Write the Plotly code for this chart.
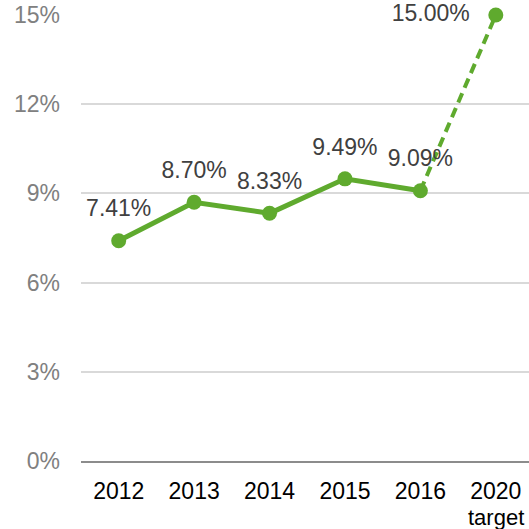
import plotly.graph_objects as go

categories = ["2012", "2013", "2014", "2015", "2016", "2020"]
sub_labels = ["", "", "", "", "", "target"]
values = [7.41, 8.70, 8.33, 9.49, 9.09, 15.00]
labels = ["7.41%", "8.70%", "8.33%", "9.49%", "9.09%", "15.00%"]
y_ticks = [0, 3, 6, 9, 12, 15]
y_tick_labels = ["0%", "3%", "6%", "9%", "12%", "15%"]

green = "#5FAA2E"
font = "Liberation Sans, Arial, sans-serif"
fs = 23

fig = go.Figure()
# dashed projection 2016 -> 2020
fig.add_trace(go.Scatter(
    x=categories[4:], y=values[4:],
    mode="lines",
    line=dict(color=green, width=4, dash="10px,6px"),
    hoverinfo="skip", showlegend=False, cliponaxis=False,
))
# actual values
fig.add_trace(go.Scatter(
    x=categories[:5], y=values[:5],
    mode="lines+markers",
    line=dict(color=green, width=5),
    marker=dict(color=green, size=15),
    showlegend=False, cliponaxis=False,
))
# target point
fig.add_trace(go.Scatter(
    x=categories[5:], y=values[5:],
    mode="markers",
    marker=dict(color=green, size=15),
    showlegend=False, cliponaxis=False,
))
# data labels (actuals)
fig.add_trace(go.Scatter(
    x=categories[:5], y=values[:5],
    mode="markers+text",
    marker=dict(color="rgba(0,0,0,0)", size=28),
    text=labels[:5], textposition="top center",
    textfont=dict(family=font, size=fs, color="#404040"),
    hoverinfo="skip", showlegend=False, cliponaxis=False,
))
# data label (target)
fig.add_trace(go.Scatter(
    x=categories[5:], y=values[5:],
    mode="markers+text",
    marker=dict(color="rgba(0,0,0,0)", size=40),
    text=labels[5:], textposition="middle left",
    textfont=dict(family=font, size=fs, color="#404040"),
    hoverinfo="skip", showlegend=False, cliponaxis=False,
))

for i, s in enumerate(sub_labels):
    if s:
        fig.add_annotation(
            x=i, y=0, xref="x", yref="y", yanchor="middle", xanchor="center",
            yshift=-56, text=s, showarrow=False,
            font=dict(family=font, size=22, color="#000000"),
        )

fig.update_layout(
    width=529, height=529,
    margin=dict(l=81, r=0, t=15, b=68),
    plot_bgcolor="white", paper_bgcolor="white",
    font=dict(family=font),
    xaxis=dict(
        type="category", categoryorder="array", categoryarray=categories,
        range=[-0.5, 5.44], automargin=False,
        showgrid=False, showline=True, linecolor="#8c8c8c", linewidth=2,
        tickfont=dict(family=font, size=fs, color="#000000"),
        ticks="", ticklabelstandoff=8, zeroline=False, fixedrange=True,
    ),
    yaxis=dict(
        range=[0, 15], tickvals=y_ticks, ticktext=y_tick_labels,
        automargin=False,
        showgrid=True, gridcolor="#d9d9d9", gridwidth=2,
        zeroline=False, showline=False,
        tickfont=dict(family=font, size=fs, color="#808080"),
        ticks="", ticklabelstandoff=20, fixedrange=True,
    ),
)

fig.write_html(
    "out.html",
    config={"displayModeBar": False},
    post_script="document.body.style.margin='0';document.body.style.overflow='hidden';",
)
